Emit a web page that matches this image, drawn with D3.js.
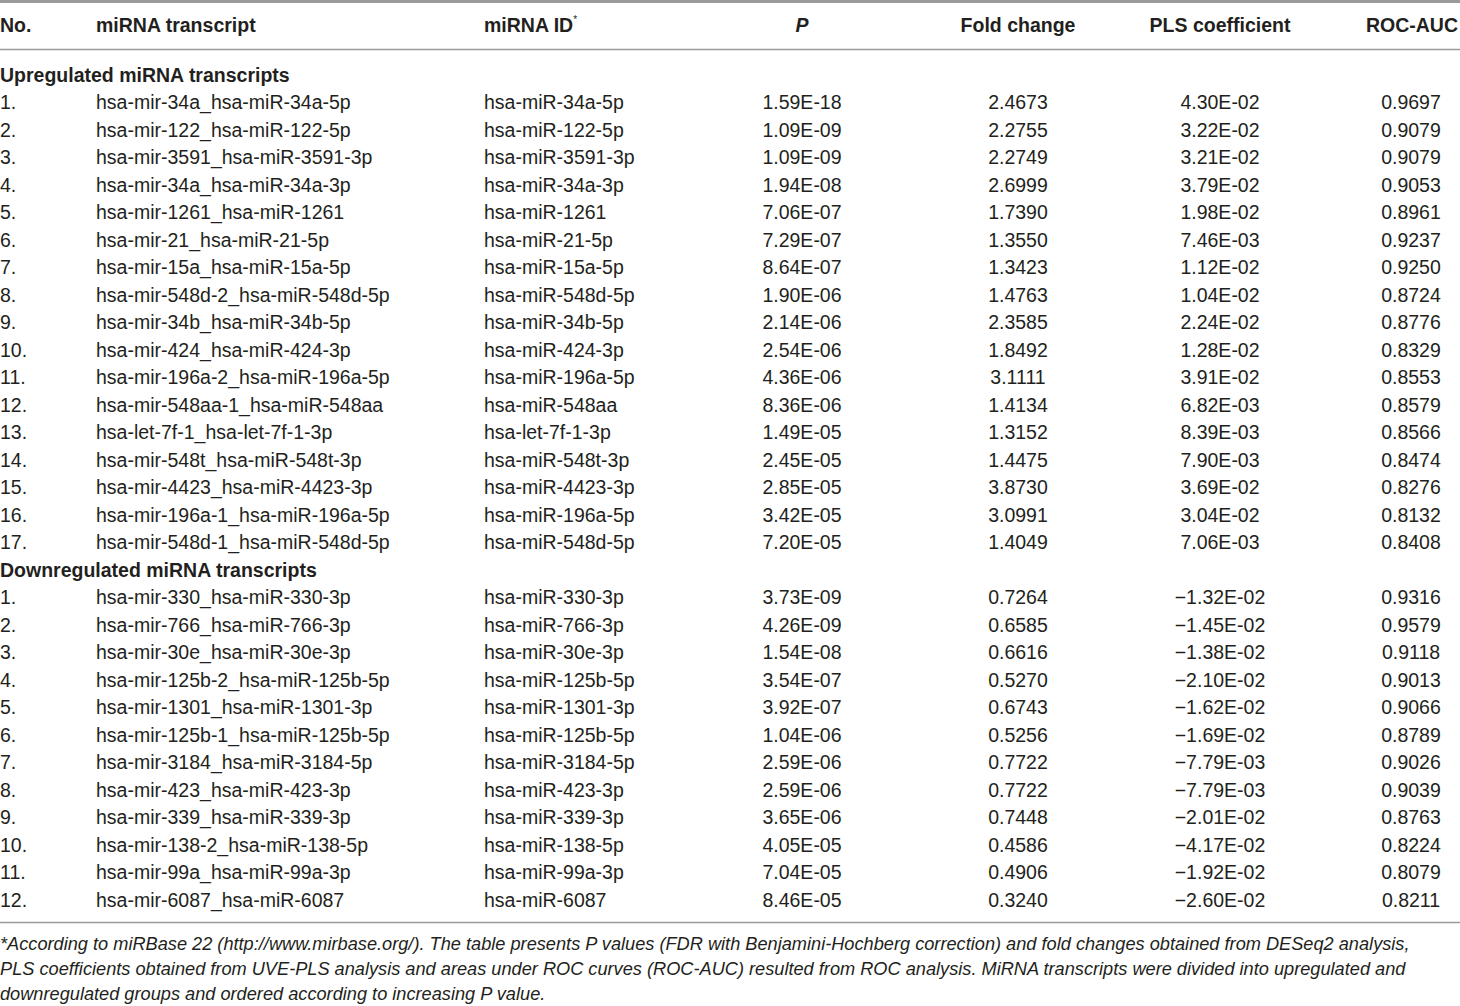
<!DOCTYPE html>
<html><head><meta charset="utf-8">
<script src="https://cdn.jsdelivr.net/npm/d3@7"></script>
<style>
html,body{margin:0;padding:0;background:#fff;}
svg{display:block;}
text{font-family:"Liberation Sans",Arial,sans-serif;fill:#231f20;}
</style></head><body>
<svg id="c" width="1460" height="1006"></svg>
<script>
const headers = ["No.", "miRNA transcript", "miRNA ID", "P", "Fold change", "PLS coefficient", "ROC-AUC"];
const groups = ["Upregulated miRNA transcripts", "Downregulated miRNA transcripts"];

const upTranscripts = ["hsa-mir-34a_hsa-miR-34a-5p","hsa-mir-122_hsa-miR-122-5p","hsa-mir-3591_hsa-miR-3591-3p","hsa-mir-34a_hsa-miR-34a-3p","hsa-mir-1261_hsa-miR-1261","hsa-mir-21_hsa-miR-21-5p","hsa-mir-15a_hsa-miR-15a-5p","hsa-mir-548d-2_hsa-miR-548d-5p","hsa-mir-34b_hsa-miR-34b-5p","hsa-mir-424_hsa-miR-424-3p","hsa-mir-196a-2_hsa-miR-196a-5p","hsa-mir-548aa-1_hsa-miR-548aa","hsa-let-7f-1_hsa-let-7f-1-3p","hsa-mir-548t_hsa-miR-548t-3p","hsa-mir-4423_hsa-miR-4423-3p","hsa-mir-196a-1_hsa-miR-196a-5p","hsa-mir-548d-1_hsa-miR-548d-5p"];
const upIds = ["hsa-miR-34a-5p","hsa-miR-122-5p","hsa-miR-3591-3p","hsa-miR-34a-3p","hsa-miR-1261","hsa-miR-21-5p","hsa-miR-15a-5p","hsa-miR-548d-5p","hsa-miR-34b-5p","hsa-miR-424-3p","hsa-miR-196a-5p","hsa-miR-548aa","hsa-let-7f-1-3p","hsa-miR-548t-3p","hsa-miR-4423-3p","hsa-miR-196a-5p","hsa-miR-548d-5p"];
const upP = ["1.59E-18","1.09E-09","1.09E-09","1.94E-08","7.06E-07","7.29E-07","8.64E-07","1.90E-06","2.14E-06","2.54E-06","4.36E-06","8.36E-06","1.49E-05","2.45E-05","2.85E-05","3.42E-05","7.20E-05"];
const upFold = ["2.4673","2.2755","2.2749","2.6999","1.7390","1.3550","1.3423","1.4763","2.3585","1.8492","3.1111","1.4134","1.3152","1.4475","3.8730","3.0991","1.4049"];
const upPLS = ["4.30E-02","3.22E-02","3.21E-02","3.79E-02","1.98E-02","7.46E-03","1.12E-02","1.04E-02","2.24E-02","1.28E-02","3.91E-02","6.82E-03","8.39E-03","7.90E-03","3.69E-02","3.04E-02","7.06E-03"];
const upAUC = ["0.9697","0.9079","0.9079","0.9053","0.8961","0.9237","0.9250","0.8724","0.8776","0.8329","0.8553","0.8579","0.8566","0.8474","0.8276","0.8132","0.8408"];

const downTranscripts = ["hsa-mir-330_hsa-miR-330-3p","hsa-mir-766_hsa-miR-766-3p","hsa-mir-30e_hsa-miR-30e-3p","hsa-mir-125b-2_hsa-miR-125b-5p","hsa-mir-1301_hsa-miR-1301-3p","hsa-mir-125b-1_hsa-miR-125b-5p","hsa-mir-3184_hsa-miR-3184-5p","hsa-mir-423_hsa-miR-423-3p","hsa-mir-339_hsa-miR-339-3p","hsa-mir-138-2_hsa-miR-138-5p","hsa-mir-99a_hsa-miR-99a-3p","hsa-mir-6087_hsa-miR-6087"];
const downIds = ["hsa-miR-330-3p","hsa-miR-766-3p","hsa-miR-30e-3p","hsa-miR-125b-5p","hsa-miR-1301-3p","hsa-miR-125b-5p","hsa-miR-3184-5p","hsa-miR-423-3p","hsa-miR-339-3p","hsa-miR-138-5p","hsa-miR-99a-3p","hsa-miR-6087"];
const downP = ["3.73E-09","4.26E-09","1.54E-08","3.54E-07","3.92E-07","1.04E-06","2.59E-06","2.59E-06","3.65E-06","4.05E-05","7.04E-05","8.46E-05"];
const downFold = ["0.7264","0.6585","0.6616","0.5270","0.6743","0.5256","0.7722","0.7722","0.7448","0.4586","0.4906","0.3240"];
const downPLS = ["\u22121.32E-02","\u22121.45E-02","\u22121.38E-02","\u22122.10E-02","\u22121.62E-02","\u22121.69E-02","\u22127.79E-03","\u22127.79E-03","\u22122.01E-02","\u22124.17E-02","\u22121.92E-02","\u22122.60E-02"];
const downAUC = ["0.9316","0.9579","0.9118","0.9013","0.9066","0.8789","0.9026","0.9039","0.8763","0.8224","0.8079","0.8211"];

const footnote = [
  "*According to miRBase 22 (http://www.mirbase.org/). The table presents P values (FDR with Benjamini-Hochberg correction) and fold changes obtained from DESeq2 analysis,",
  "PLS coefficients obtained from UVE-PLS analysis and areas under ROC curves (ROC-AUC) resulted from ROC analysis. MiRNA transcripts were divided into upregulated and",
  "downregulated groups and ordered according to increasing P value."
];

// build rows
const lines = [];
lines.push({type:"group", label:groups[0]});
upTranscripts.forEach((t,i)=>lines.push({type:"row", cells:[(i+1)+".", t, upIds[i], upP[i], upFold[i], upPLS[i], upAUC[i]]}));
lines.push({type:"group", label:groups[1]});
downTranscripts.forEach((t,i)=>lines.push({type:"row", cells:[(i+1)+".", t, downIds[i], downP[i], downFold[i], downPLS[i], downAUC[i]]}));

const svg = d3.select("#c");
const FS = 19.5;
const lineColor = "#9a9a9a";

// column positions
const colX = d3.scaleOrdinal().domain(headers).range([0, 96, 484, 802, 1018, 1220, 1411]);
const colAnchor = d3.scaleOrdinal().domain(headers).range(["start","start","start","middle","middle","middle","middle"]);
const headerX = d3.scaleOrdinal().domain(headers).range([0, 96, 484, 802, 1018, 1220, 1458]);
const headerAnchor = d3.scaleOrdinal().domain(headers).range(["start","start","start","middle","middle","middle","end"]);

const y = d3.scalePoint().domain(d3.range(lines.length)).range([75, 900]);

// rules
svg.append("line").attr("x1",0).attr("x2",1460).attr("y1",1.5).attr("y2",1.5).attr("stroke",lineColor).attr("stroke-width",3);
svg.append("line").attr("x1",0).attr("x2",1460).attr("y1",49.5).attr("y2",49.5).attr("stroke",lineColor).attr("stroke-width",1.6);
svg.append("line").attr("x1",0).attr("x2",1460).attr("y1",922.5).attr("y2",922.5).attr("stroke",lineColor).attr("stroke-width",1.6);

// header
const hg = svg.append("g");
headers.forEach(h=>{
  const t = hg.append("text").attr("x", headerX(h)).attr("y", 25).attr("dy","0.35em")
    .attr("text-anchor", headerAnchor(h)).attr("font-weight","bold").attr("font-size",FS);
  if (h === "P") { t.attr("font-style","italic").text("P"); }
  else if (h === "miRNA ID") { t.text("miRNA ID"); t.append("tspan").attr("font-size",10).attr("dy","-0.9em").attr("font-weight","normal").text("*"); }
  else t.text(h);
});

// body
const body = svg.append("g");
lines.forEach((ln,i)=>{
  if (ln.type === "group") {
    body.append("text").attr("x",0).attr("y",y(i)).attr("dy","0.35em").attr("font-weight","bold").attr("font-size",FS).text(ln.label);
  } else {
    ln.cells.forEach((c,j)=>{
      body.append("text").attr("x", colX(headers[j])).attr("y", y(i)).attr("dy","0.35em")
        .attr("text-anchor", colAnchor(headers[j])).attr("font-size",FS).text(c);
    });
  }
});

// footnote
const fy = d3.scalePoint().domain(d3.range(footnote.length)).range([944, 994]);
footnote.forEach((f,i)=>{
  svg.append("text").attr("x",0).attr("y",fy(i)).attr("dy","0.35em").attr("font-style","italic").attr("font-size",18.2).text(f);
});
</script>
</body></html>
